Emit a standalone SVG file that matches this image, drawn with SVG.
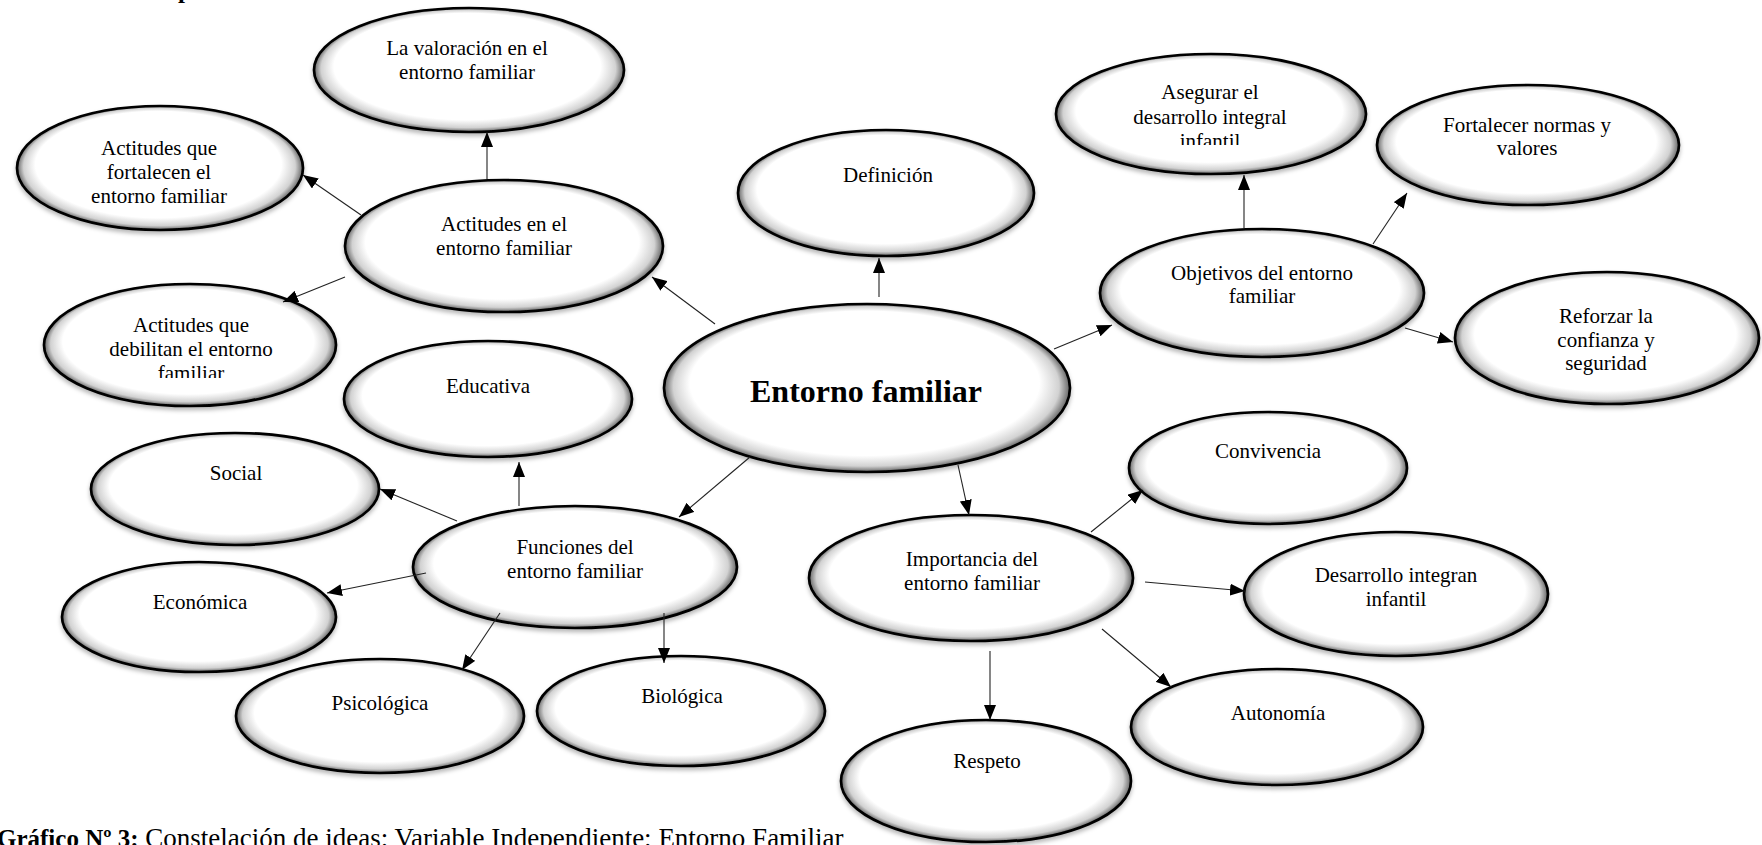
<svg xmlns="http://www.w3.org/2000/svg" width="1762" height="845" viewBox="0 0 1762 845">
<defs>
<radialGradient id="bevel" cx="0.5" cy="0.5" r="0.5" fx="0.46" fy="0.3">
<stop offset="0" stop-color="#ffffff"/>
<stop offset="0.86" stop-color="#ffffff"/>
<stop offset="0.95" stop-color="#d2d2d2"/>
<stop offset="1" stop-color="#646464"/>
</radialGradient>
<filter id="sh" x="-10%" y="-10%" width="120%" height="130%">
<feDropShadow dx="0" dy="3" stdDeviation="2" flood-color="#000" flood-opacity="0.28"/>
</filter>
<marker id="ah" markerUnits="userSpaceOnUse" markerWidth="16" markerHeight="12" refX="15" refY="6" orient="auto">
<path d="M0,0 L15,6 L0,12 z" fill="#000"/>
</marker>
<clipPath id="clipAseg"><rect x="1000" y="60" width="420" height="85"/></clipPath>
<clipPath id="clipDeb"><rect x="40" y="300" width="300" height="78"/></clipPath>
</defs>
<style>
.n ellipse{fill:url(#bevel);stroke:#000;stroke-width:2.7;filter:url(#sh)}
.t{font-family:"Liberation Serif","Times New Roman",serif;font-size:21px;fill:#000;text-anchor:middle}
.main{font-family:"Liberation Serif","Times New Roman",serif;font-size:32px;font-weight:bold;fill:#000;text-anchor:middle}
.c line{stroke:#222;stroke-width:1.1;marker-end:url(#ah)}
.cap{font-family:"Liberation Serif","Times New Roman",serif;font-size:25px;fill:#000}
</style>

<text class="cap" x="178" y="-2" font-weight="bold">p</text>

<g id="valoracion" class="n"><ellipse cx="469" cy="70" rx="155" ry="62"/>
<text class="t" x="467" y="55">La valoración en el</text><text class="t" x="467" y="79">entorno familiar</text></g>

<g id="fortalecen" class="n"><ellipse cx="160" cy="168" rx="143" ry="62"/>
<text class="t" x="159" y="155">Actitudes que</text><text class="t" x="159" y="179">fortalecen el</text><text class="t" x="159" y="203">entorno familiar</text></g>

<g id="actitudes" class="n"><ellipse cx="504" cy="246" rx="159" ry="66"/>
<text class="t" x="504" y="231">Actitudes en el</text><text class="t" x="504" y="255">entorno familiar</text></g>

<g id="debilitan" class="n"><ellipse cx="190" cy="345" rx="146" ry="61"/>
<g clip-path="url(#clipDeb)"><text class="t" x="191" y="332">Actitudes que</text><text class="t" x="191" y="356">debilitan el entorno</text><text class="t" x="191" y="380">familiar</text></g></g>

<g id="educativa" class="n"><ellipse cx="488" cy="399" rx="144" ry="58"/>
<text class="t" x="488" y="393">Educativa</text></g>

<g id="definicion" class="n"><ellipse cx="886" cy="193" rx="148" ry="63"/>
<text class="t" x="888" y="182">Definición</text></g>

<g id="asegurar" class="n"><ellipse cx="1211" cy="114" rx="155" ry="60"/>
<g clip-path="url(#clipAseg)"><text class="t" x="1210" y="99">Asegurar el</text><text class="t" x="1210" y="124">desarrollo integral</text><text class="t" x="1210" y="148">infantil</text></g></g>

<g id="fortalecer" class="n"><ellipse cx="1528" cy="145" rx="151" ry="60"/>
<text class="t" x="1527" y="132">Fortalecer normas y</text><text class="t" x="1527" y="155">valores</text></g>

<g id="objetivos" class="n"><ellipse cx="1262" cy="293" rx="162" ry="64"/>
<text class="t" x="1262" y="280">Objetivos del entorno</text><text class="t" x="1262" y="303">familiar</text></g>

<g id="reforzar" class="n"><ellipse cx="1607" cy="338" rx="152" ry="66"/>
<text class="t" x="1606" y="323">Reforzar la</text><text class="t" x="1606" y="347">confianza y</text><text class="t" x="1606" y="370">seguridad</text></g>

<g id="entorno" class="n"><ellipse cx="867" cy="388" rx="203" ry="84"/>
<text class="main" x="866" y="402">Entorno familiar</text></g>

<g id="social" class="n"><ellipse cx="235" cy="489" rx="144" ry="56"/>
<text class="t" x="236" y="480">Social</text></g>

<g id="funciones" class="n"><ellipse cx="575" cy="567" rx="162" ry="61"/>
<text class="t" x="575" y="554">Funciones del</text><text class="t" x="575" y="578">entorno familiar</text></g>

<g id="economica" class="n"><ellipse cx="199" cy="617" rx="137" ry="55"/>
<text class="t" x="200" y="609">Económica</text></g>

<g id="psicologica" class="n"><ellipse cx="380" cy="716" rx="144" ry="57"/>
<text class="t" x="380" y="710">Psicológica</text></g>

<g id="biologica" class="n"><ellipse cx="681" cy="711" rx="144" ry="55"/>
<text class="t" x="682" y="703">Biológica</text></g>

<g id="convivencia" class="n"><ellipse cx="1268" cy="468" rx="139" ry="56"/>
<text class="t" x="1268" y="458">Convivencia</text></g>

<g id="importancia" class="n"><ellipse cx="971" cy="578" rx="162" ry="63"/>
<text class="t" x="972" y="566">Importancia del</text><text class="t" x="972" y="590">entorno familiar</text></g>

<g id="desarrollo" class="n"><ellipse cx="1396" cy="594" rx="152" ry="62"/>
<text class="t" x="1396" y="582">Desarrollo integran</text><text class="t" x="1396" y="606">infantil</text></g>

<g id="autonomia" class="n"><ellipse cx="1277" cy="727" rx="146" ry="58"/>
<text class="t" x="1278" y="720">Autonomía</text></g>

<g id="respeto" class="n"><ellipse cx="986" cy="781" rx="145" ry="61"/>
<text class="t" x="987" y="768">Respeto</text></g>

<g id="connectors" class="c">
<line x1="715" y1="324" x2="652" y2="277"/>
<line x1="879" y1="297" x2="879" y2="258"/>
<line x1="1054" y1="349" x2="1112" y2="325"/>
<line x1="750" y1="457" x2="679" y2="517"/>
<line x1="958" y1="465" x2="969" y2="515"/>
<line x1="487" y1="179" x2="487" y2="132"/>
<line x1="361" y1="215" x2="303" y2="175"/>
<line x1="345" y1="277" x2="283" y2="302"/>
<line x1="1244" y1="228" x2="1244" y2="175"/>
<line x1="1373" y1="244" x2="1407" y2="193"/>
<line x1="1405" y1="328" x2="1453" y2="342"/>
<line x1="519" y1="506" x2="519" y2="462"/>
<line x1="457" y1="521" x2="380" y2="489"/>
<line x1="426" y1="573" x2="327" y2="593"/>
<line x1="500" y1="613" x2="462" y2="670"/>
<line x1="664" y1="613" x2="664" y2="663"/>
<line x1="1091" y1="532" x2="1143" y2="490"/>
<line x1="1145" y1="582" x2="1245" y2="591"/>
<line x1="1102" y1="629" x2="1171" y2="687"/>
<line x1="990" y1="651" x2="990" y2="720"/>
</g>

<text class="cap" x="-3" y="847"><tspan font-weight="bold">Gráfico Nº 3:</tspan><tspan font-size="27px"> Constelación de ideas: Variable Independiente: Entorno Familiar</tspan></text>
</svg>
